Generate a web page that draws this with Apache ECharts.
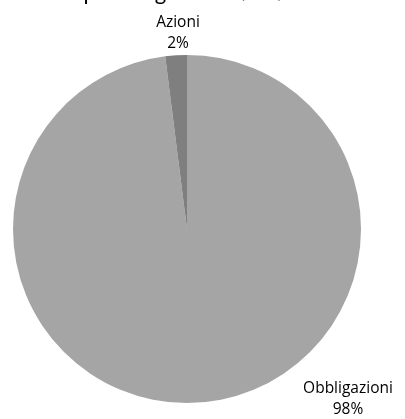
<!DOCTYPE html>
<html><head><meta charset="utf-8">
<script src="https://cdn.jsdelivr.net/npm/echarts@6/dist/echarts.min.js"></script>
<style>html,body{margin:0;padding:0;background:#fff}#c{width:405px;height:419px}</style>
</head><body><div id="c"></div>
<script>
const titleText = "Il portafoglio al 31/12/2014";
const categories = ["Obbligazioni", "Azioni"];
const values = [98, 2];
const colors = ["#a5a5a5", "#7f7f7f"];

const labelPos = [{x: 348, y: 399}, {x: 178, y: 33}];

const chart = echarts.init(document.getElementById('c'), null, {renderer: 'canvas'});
chart.setOption({
  animation: false,
  title: {
    text: titleText, left: 'center', top: -23,
    textStyle: {fontFamily: 'Lato', fontSize: 22, fontWeight: 'normal', color: '#000'}
  },
  series: [{
    type: 'pie',
    center: [187, 229],
    radius: [0, 174],
    startAngle: 90,
    clockwise: true,
    data: categories.map((c, i) => ({name: c, value: values[i], itemStyle: {color: colors[i]}})),
    label: {
      show: true,
      position: 'outside',
      formatter: '{b}\n{d}%',
      fontFamily: 'Open Sans',
      fontSize: 15.5,
      lineHeight: 21,
      color: '#000',
      align: 'center'
    },
    labelLine: {show: false},
    labelLayout: function (p) {
      return {x: labelPos[p.dataIndex].x, y: labelPos[p.dataIndex].y, align: 'center', verticalAlign: 'middle'};
    },
    emphasis: {disabled: true}
  }]
});
</script></body></html>
